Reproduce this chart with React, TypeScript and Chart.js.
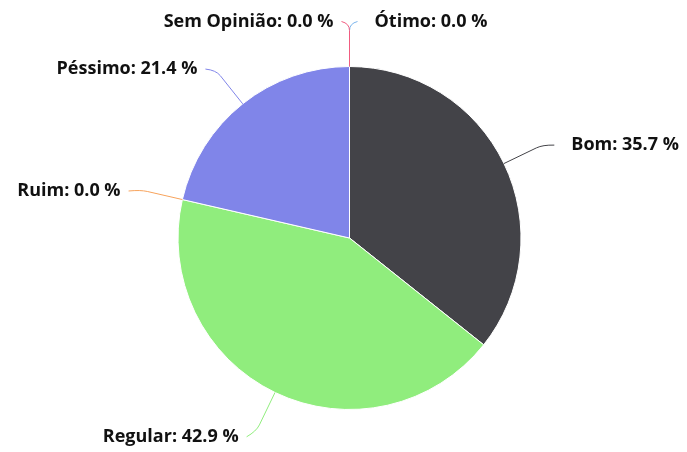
import React, { useEffect, useRef } from "react";
import { Chart, registerables } from "chart.js";

Chart.register(...registerables);

const categories = ["Ótimo", "Bom", "Regular", "Ruim", "Péssimo", "Sem Opinião"];
const percentages = [0.0, 35.7, 42.9, 0.0, 21.4, 0.0];
const colors = ["#7cb5ec", "#434348", "#90ed7d", "#f7a35c", "#8085e9", "#f15c80"];

const labelPlugin = {
  id: "pieLabels",
  afterDatasetsDraw(chart: any) {
    const ctx = chart.ctx as CanvasRenderingContext2D;
    const meta = chart.getDatasetMeta(0);
    const H = chart.height;
    ctx.save();
    meta.data.forEach((arc: any, i: number) => {
      const { x: cx, y: cy, outerRadius: r, startAngle, endAngle } = arc.getProps(
        ["x", "y", "outerRadius", "startAngle", "endAngle"],
        true
      );
      const theta = (startAngle + endAngle) / 2;
      const side = theta < Math.PI / 2 ? 1 : -1;
      const R = r + 47;
      const cos = Math.cos(theta);
      const sin = Math.sin(theta);
      const baseY = cy + R * sin;
      const ax = cx + side * Math.sqrt(Math.max(0, R * R - (baseY - cy) * (baseY - cy)));
      let ly = baseY + 2;
      ly = Math.max(20, Math.min(H - 15, ly));
      const endX = ax + side * 8;
      const touchX = cx + r * cos;
      const touchY = cy + r * sin;
      const brk = 36;
      const bx = cx + (r + brk) * cos;
      const by = cy + (r + brk) * sin;
      const qx = cx + (r + brk + 7) * cos;
      const qy = cy + (r + brk + 7) * sin;
      ctx.beginPath();
      ctx.strokeStyle = colors[i];
      ctx.lineWidth = 1;
      ctx.moveTo(touchX, touchY);
      ctx.lineTo(bx, by);
      ctx.quadraticCurveTo(qx, qy, endX, ly);
      ctx.stroke();

      const text = `${categories[i]}: ${percentages[i].toFixed(1)} %`;
      ctx.font = "bold 18px 'Open Sans'";
      ctx.fillStyle = "#111111";
      ctx.textBaseline = "middle";
      if (side > 0) {
        ctx.textAlign = "left";
        ctx.fillText(text, endX + 17, ly);
      } else {
        ctx.textAlign = "right";
        ctx.fillText(text, endX - 8, ly);
      }
    });
    ctx.restore();
  },
};

export default function App() {
  const ref = useRef<HTMLCanvasElement>(null);
  useEffect(() => {
    if (!ref.current) return;
    const chart = new Chart(ref.current, {
      type: "pie",
      data: {
        labels: categories,
        datasets: [
          {
            data: percentages,
            backgroundColor: colors,
            borderColor: "#ffffff",
            borderWidth: 1,
          },
        ],
      },
      options: {
        responsive: false,
        animation: false,
        events: [],
        layout: { padding: { left: 177, right: 165, top: 66, bottom: 42 } },
        plugins: {
          legend: { display: false },
          tooltip: { enabled: false },
        },
      },
      plugins: [labelPlugin],
    });
    return () => chart.destroy();
  }, []);
  return (
    <div style={{ position: "absolute", left: 0, top: 0, width: 687, height: 452, background: "#fff" }}>
      <canvas ref={ref} width={687} height={452} style={{ display: "block" }} />
    </div>
  );
}
